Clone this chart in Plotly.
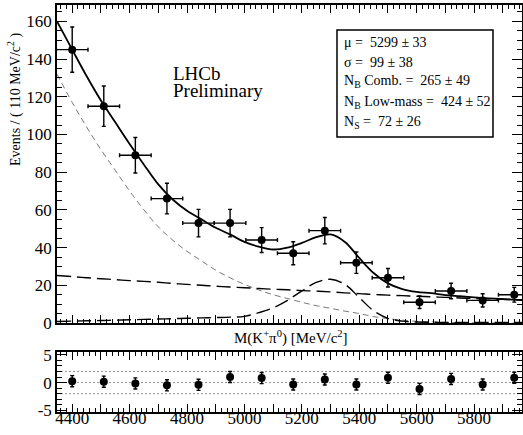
import plotly.graph_objects as go

# ---- data ----
mass = [4400, 4510, 4620, 4730, 4840, 4950, 5060, 5170, 5280, 5390, 5500, 5610, 5720, 5830, 5940]
events = [145, 115, 89, 66, 53, 53, 44, 37, 49, 32, 24, 11, 17, 12, 15]
events_err = [12.0, 10.7, 9.4, 8.1, 7.3, 7.3, 6.6, 6.1, 7.0, 5.7, 4.9, 3.3, 4.1, 3.5, 3.9]
bin_half = [55] * 15

pull = [0.25, 0.15, -0.15, -0.5, -0.4, 1.0, 0.8, -0.35, 0.55, -0.35, 0.85, -1.15, 0.65, -0.35, 0.85]
pull_err = [1] * 15

curve_x = [4347, 4400, 4450, 4500, 4550, 4600, 4650, 4700, 4750, 4800, 4850, 4900, 4950, 5000,
           5050, 5100, 5150, 5200, 5250, 5300, 5350, 5400, 5450, 5500, 5550, 5600, 5650, 5700,
           5750, 5800, 5850, 5900, 5950, 5967]
fit_total = [160, 145, 131, 118, 106.5, 95, 84, 73.5, 65.5, 59.5, 55, 50.5, 47, 43, 40.5, 39, 40,
             42.5, 45.5, 47, 43, 34.5, 26.5, 21, 18, 16.5, 15.8, 14.8, 14.2, 13.6, 13.1, 12.7, 12.3, 12.2]
fit_comb = [25.2, 24.6, 24, 23.5, 23, 22.5, 22.1, 21.6, 21, 20.5, 20, 19.5, 19.1, 18.7, 18.3, 17.9,
            17.6, 17.2, 16.9, 16.5, 16, 15.6, 15.1, 14.8, 14.5, 14.2, 13.9, 13.6, 13.3, 13, 12.8,
            12.6, 12.3, 12.2]
fit_lowmass = [132, 117, 104, 92, 81, 70, 60, 51, 44, 38, 33, 28, 24, 20.5, 17.5, 15, 13, 11, 9.2,
               7.8, 6.3, 5, 3.4, 2.3, 1.5, 0.9, 0.6, 0.3, 0.2, 0.1, 0.05, 0, 0, 0]
fit_signal = [0.8, 1.0, 1.2, 1.3, 1.5, 1.7, 1.9, 2.1, 2.3, 2.5, 2.7, 2.9, 3.1, 3.5, 5.5, 8, 12, 17,
              21.5, 23.2, 20.5, 13.5, 6.5, 2.5, 1, 0.5, 0.4, 0.3, 0.3, 0.3, 0.3, 0.3, 0.3, 0.3]

x_tickvals = [4400, 4500, 4600, 4700, 4800, 4900, 5000, 5100, 5200, 5300, 5400, 5500, 5600, 5700, 5800, 5900]
x_ticktext = ["4400", "", "4600", "", "4800", "", "5000", "", "5200", "", "5400", "", "5600", "", "5800", ""]
pull_bands = [2, 0, -2]

box_lines = ["μ =  5299 ± 33", "σ =  99 ± 38", "N<sub>B</sub> Comb. =  265 ± 49",
             "N<sub>B</sub> Low-mass =  424 ± 52", "N<sub>S</sub> =  72 ± 26"]

FONT = "Liberation Serif"
W, H = 523, 435
L, R, T, B = 57, 1, 5, 23
PW, PH = W - L - R, H - T - B
XR = [4347, 5967]

def py2paper(py):
    return (H - B - py) / PH

def px2paper(px):
    return (px - L) / PW

fig = go.Figure()

# fit components
fig.add_trace(go.Scatter(x=curve_x, y=fit_lowmass, mode="lines", line_shape="spline",
                         line=dict(color="#555", width=0.8, dash="6px,4px"), xaxis="x", yaxis="y"))
fig.add_trace(go.Scatter(x=curve_x, y=fit_comb, mode="lines", line_shape="spline",
                         line=dict(color="black", width=1.4, dash="14px,6px"), xaxis="x", yaxis="y"))
fig.add_trace(go.Scatter(x=curve_x, y=fit_signal, mode="lines", line_shape="spline",
                         line=dict(color="black", width=1.4, dash="14px,6px"), xaxis="x", yaxis="y"))
fig.add_trace(go.Scatter(x=curve_x, y=fit_total, mode="lines", line_shape="spline",
                         line=dict(color="black", width=1.8), xaxis="x", yaxis="y"))

# data
fig.add_trace(go.Scatter(x=mass, y=events, mode="markers", cliponaxis=False,
                         marker=dict(color="black", size=8),
                         error_x=dict(type="data", array=bin_half, color="black", thickness=1.4, width=2),
                         error_y=dict(type="data", array=events_err, color="black", thickness=1.4, width=2),
                         xaxis="x", yaxis="y"))

# pull reference lines
for v in pull_bands:
    fig.add_trace(go.Scatter(x=XR, y=[v, v], mode="lines",
                             line=dict(color="#777", width=0.8, dash="2px,2px"),
                             xaxis="x2", yaxis="y2"))

fig.add_trace(go.Scatter(x=mass, y=pull, mode="markers", cliponaxis=False,
                         marker=dict(color="black", size=8),
                         error_y=dict(type="data", array=pull_err, color="black", thickness=1.4, width=2),
                         xaxis="x2", yaxis="y2"))

main_bottom = py2paper(323)
res_top = py2paper(352)

common_x = dict(range=XR, showline=True, linecolor="black", linewidth=1.5, mirror="allticks",
                ticks="inside", ticklen=8, tickcolor="black", tickwidth=1, automargin=False,
                tickmode="array", tickvals=x_tickvals, showgrid=False, zeroline=False,
                minor=dict(ticks="inside", ticklen=4, dtick=20, tickcolor="black", showgrid=False))

fig.update_layout(
    width=W, height=H, margin=dict(l=L, r=R, t=T, b=B, autoexpand=False),
    paper_bgcolor="white", plot_bgcolor="white", showlegend=False,
    font=dict(family=FONT, color="black", size=16),
    xaxis=dict(common_x, domain=[0, 1], anchor="y", showticklabels=False),
    yaxis=dict(domain=[main_bottom, 1], range=[0, 168.7], anchor="x", automargin=False,
               showline=True, linecolor="black", linewidth=1.5, mirror="allticks",
               ticks="inside", ticklen=10, tickcolor="black", dtick=20,
               showgrid=False, zeroline=False, tickfont=dict(size=17),
               minor=dict(ticks="inside", ticklen=5, dtick=5, tickcolor="black", showgrid=False)),
    xaxis2=dict(common_x, domain=[0, 1], anchor="y2", ticktext=x_ticktext, tickfont=dict(size=17),
                ticklabelstandoff=-10),
    yaxis2=dict(domain=[0, res_top], range=[-5.3, 5.5], anchor="x2", automargin=False,
                showline=True, linecolor="black", linewidth=1.5, mirror="allticks",
                ticks="inside", ticklen=10, tickcolor="black", tickvals=[-5, 0, 5],
                ticktext=["-5", "0", "5"],
                showgrid=False, zeroline=False, tickfont=dict(size=17),
                minor=dict(ticks="inside", ticklen=5, dtick=1, tickcolor="black", showgrid=False)),
)

# axis titles
fig.add_annotation(text="M(K<sup>+</sup>π<sup>0</sup>) [MeV/c<sup>2</sup>]", xref="paper", yref="paper",
                   x=px2paper(291), y=py2paper(337), showarrow=False, font=dict(size=15, family=FONT),
                   xanchor="center", yanchor="middle")
fig.add_annotation(text="Events / ( 110 MeV/c<sup>2</sup> )", xref="paper", yref="paper",
                   x=px2paper(14), y=py2paper(100), showarrow=False, textangle=-90,
                   font=dict(size=14, family=FONT), xanchor="center", yanchor="middle")

# LHCb label
fig.add_annotation(text="LHCb", xref="paper", yref="paper",
                   x=px2paper(171), y=py2paper(73), showarrow=False, font=dict(size=19, family=FONT),
                   xanchor="left", yanchor="middle")
fig.add_annotation(text="Preliminary", xref="paper", yref="paper",
                   x=px2paper(171), y=py2paper(91), showarrow=False, font=dict(size=19, family=FONT),
                   xanchor="left", yanchor="middle")

# parameter box
fig.add_shape(type="rect", xref="paper", yref="paper",
              x0=px2paper(337), x1=px2paper(493), y0=py2paper(137), y1=py2paper(30),
              line=dict(color="black", width=1.5), fillcolor="white", layer="above")
for i, txt in enumerate(box_lines):
    fig.add_annotation(text=txt, xref="paper", yref="paper", x=px2paper(342),
                       y=py2paper(42 + 20 * i), showarrow=False, xanchor="left", yanchor="middle",
                       font=dict(size=14, family=FONT))

fig.write_html("out.html", config={"displayModeBar": False},
               post_script="document.body.style.margin='0';document.body.style.padding='0';document.body.style.overflow='hidden';")
